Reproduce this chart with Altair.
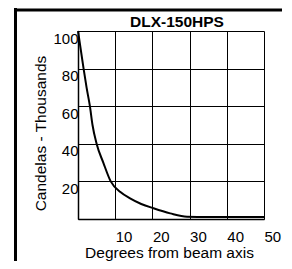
import altair as alt
import pandas as pd

# data
degrees = [0, 1.5, 2.3, 3.2, 3.9, 5.0, 6.8, 8.8, 11.4, 14.0, 17.0, 20.3, 24.8, 29.3, 35.0, 50.0]
candelas = [100, 80, 70, 60, 50, 40, 30, 20, 14.3, 11.0, 8.0, 5.7, 3.0, 1.2, 1.0, 1.0]
x_ticks = [0, 10, 20, 30, 40, 50]
y_ticks = [0, 20, 40, 60, 80, 100]
chart_title = "DLX-150HPS"
x_title = "Degrees from beam axis"
y_title = "Candelas - Thousands"

FONT = "Liberation Sans"
W, H = 186, 188

df = pd.DataFrame({"deg": degrees, "cd": candelas})

line = alt.Chart(df).mark_line(color="black", strokeWidth=2, interpolate="monotone").encode(
    x=alt.X("deg:Q", scale=alt.Scale(domain=[0, 50], nice=False),
            axis=alt.Axis(values=x_ticks, title=x_title, grid=True, gridColor="black",
                          gridOpacity=1, gridWidth=1, domainColor="black", domainWidth=1.5,
                          ticks=False, labelAlign="left", labelPadding=10,
                          labelExpr="datum.value == 0 ? '' : datum.label",
                          labelFont=FONT, labelFontSize=15, labelColor="black",
                          titleFont=FONT, titleFontSize=15.5, titleFontWeight="normal",
                          titleColor="black", titleBaseline="alphabetic", titleX=91, titleY=38.5)),
    y=alt.Y("cd:Q", scale=alt.Scale(domain=[0, 100], nice=False),
            axis=alt.Axis(values=y_ticks, title=y_title, grid=True, gridColor="black",
                          gridOpacity=1, gridWidth=1, domainColor="black", domainWidth=1.5,
                          ticks=False, labelPadding=0, labelBaseline="top",
                          labelExpr="datum.value == 0 ? '' : datum.label",
                          labelFont=FONT, labelFontSize=15, labelColor="black",
                          titleFont=FONT, titleFontSize=15.5, titleFontWeight="normal",
                          titleColor="black", titleBaseline="alphabetic", titleAngle=-90,
                          titleAlign="center", titleX=-33, titleY=102)),
)

one = alt.Data(values=[{"t": chart_title}])
frame_top = alt.Chart(one).mark_rule(color="black", strokeWidth=3, strokeCap="butt").encode(
    x=alt.value(-64), x2=alt.value(W + 30), y=alt.value(-21))
frame_left = alt.Chart(one).mark_rule(color="black", strokeWidth=3, strokeCap="butt").encode(
    x=alt.value(-62.5), y=alt.value(-23), y2=alt.value(H + 50))
title = alt.Chart(one).mark_text(font=FONT, fontSize=15.5, fontWeight="bold", color="black",
                                 align="center", baseline="alphabetic").encode(
    x=alt.value(W / 2 + 6), y=alt.value(-4), text="t:N")

chart = alt.layer(frame_top, frame_left, title, line).properties(
    width=W, height=H,
    autosize=alt.AutoSizeParams(type="none"),
    padding={"left": 70, "top": 23, "right": 18, "bottom": 42},
).configure_view(stroke=None)

chart.save("out.html", embed_options={"renderer": "svg", "actions": False})
